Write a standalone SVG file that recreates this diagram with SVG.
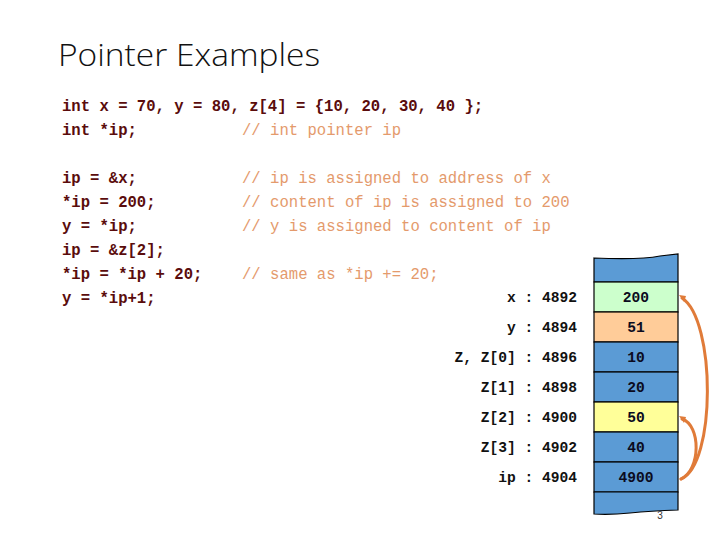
<svg xmlns="http://www.w3.org/2000/svg" width="720" height="540" viewBox="0 0 720 540">
<style>
.title{font-family:"Open Sans","Liberation Sans",sans-serif;font-weight:300;font-size:32px;fill:#111}
.code{font-family:"Liberation Mono","Courier New",monospace;font-weight:bold;font-size:15.6px;fill:#5a0c0c;white-space:pre}
.cmt{font-family:"Liberation Mono","Courier New",monospace;font-size:15.6px;fill:#e49a6c;white-space:pre}
.lbl{font-family:"Liberation Mono","Courier New",monospace;font-weight:bold;font-size:14.6px;fill:#111;text-anchor:end;white-space:pre}
.val{font-family:"Liberation Mono","Courier New",monospace;font-weight:bold;font-size:14.6px;fill:#0b0b20;text-anchor:middle}
.cell{stroke:#000;stroke-width:1.2}
.blue{fill:#5b9bd5}
.arc{fill:none;stroke:#e07b39;stroke-width:3;stroke-linecap:round}
</style>
<rect width="720" height="540" fill="#fff"/>
<text class="title" x="58" y="66" textLength="262" lengthAdjust="spacingAndGlyphs">Pointer Examples</text>
<g id="code">
<text class="code" x="62" y="111">int x = 70, y = 80, z[4] = {10, 20, 30, 40 };</text>
<text class="code" x="62" y="135">int *ip;</text>
<text class="cmt" x="242" y="135">// int pointer ip</text>
<text class="code" x="62" y="183">ip = &amp;x;</text>
<text class="cmt" x="242" y="183">// ip is assigned to address of x</text>
<text class="code" x="62" y="207">*ip = 200;</text>
<text class="cmt" x="242" y="207">// content of ip is assigned to 200</text>
<text class="code" x="62" y="231">y = *ip;</text>
<text class="cmt" x="242" y="231">// y is assigned to content of ip</text>
<text class="code" x="62" y="255">ip = &amp;z[2];</text>
<text class="code" x="62" y="279">*ip = *ip + 20;</text>
<text class="cmt" x="242" y="279">// same as *ip += 20;</text>
<text class="code" x="62" y="303">y = *ip+1;</text>
</g>
<g id="memory">
<path class="cell blue" d="M594,258 Q640,260 660,256 L678,254 L678,282 L594,282 Z"/>
<g id="cell-x"><rect class="cell" x="594" y="282" width="84" height="30" fill="#ccffcc"/><text class="val" x="636" y="302">200</text><text class="lbl" x="577" y="302">x : 4892</text></g>
<g id="cell-y"><rect class="cell" x="594" y="312" width="84" height="30" fill="#ffcc99"/><text class="val" x="636" y="332">51</text><text class="lbl" x="577" y="332">y : 4894</text></g>
<g id="cell-z0"><rect class="cell blue" x="594" y="342" width="84" height="30"/><text class="val" x="636" y="362">10</text><text class="lbl" x="577" y="362">Z, Z[0] : 4896</text></g>
<g id="cell-z1"><rect class="cell blue" x="594" y="372" width="84" height="30"/><text class="val" x="636" y="392">20</text><text class="lbl" x="577" y="392">Z[1] : 4898</text></g>
<g id="cell-z2"><rect class="cell" x="594" y="402" width="84" height="30" fill="#ffff99"/><text class="val" x="636" y="422">50</text><text class="lbl" x="577" y="422">Z[2] : 4900</text></g>
<g id="cell-z3"><rect class="cell blue" x="594" y="432" width="84" height="30"/><text class="val" x="636" y="452">40</text><text class="lbl" x="577" y="452">Z[3] : 4902</text></g>
<g id="cell-ip"><rect class="cell blue" x="594" y="462" width="84" height="30"/><text class="val" x="636" y="482">4900</text><text class="lbl" x="577" y="482">ip : 4904</text></g>
<path class="cell blue" d="M594,492 L678,492 L678,510 Q650,511 630,513 Q610,515 594,514 Z"/>
</g>
<g id="connectors">
<path class="arc" d="M681,479 C716,465 716,320 682,298"/>
<path class="arc" d="M681,479 C701,470 701,425 682,419"/>
<path d="M679,295 L686,296 L684,302 Z" fill="#e07b39"/>
<path d="M679,416 L686,417 L684,423 Z" fill="#e07b39"/>
</g>
<text x="660" y="519" font-family="Liberation Sans,sans-serif" font-size="10" fill="#333" text-anchor="middle">3</text>
</svg>
